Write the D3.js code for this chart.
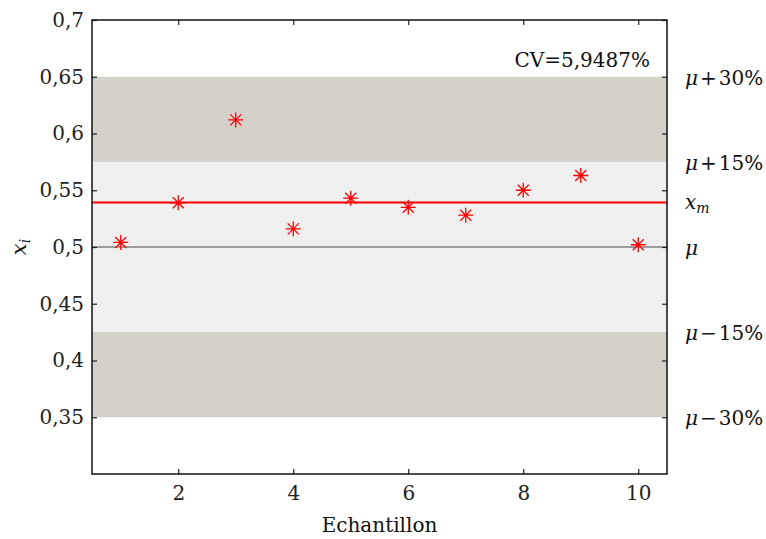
<!DOCTYPE html>
<html><head><meta charset="utf-8">
<script src="https://cdn.jsdelivr.net/npm/d3@7"></script>
<style>body{margin:0;background:#fff}svg{display:block}</style>
</head><body>
<script>
const samples = [1,2,3,4,5,6,7,8,9,10];
const values = [0.504,0.539,0.612,0.516,0.543,0.535,0.528,0.550,0.563,0.502];
const mu = 0.5;
const xm = 0.5392;
const cvText = "CV=5,9487%";
const yTicks = [0.35,0.4,0.45,0.5,0.55,0.6,0.65,0.7];
const xTicks = [2,4,6,8,10];
const bandLabels = [
  {v:0.65, base:"μ", op:"+", pct:"30%"},
  {v:0.575, base:"μ", op:"+", pct:"15%"},
  {v:0.425, base:"μ", op:"−", pct:"15%"},
  {v:0.35, base:"μ", op:"−", pct:"30%"}
];

const W=766,H=539;
const m={l:92,r:99,t:20,b:65};
const svg=d3.select("body").append("svg").attr("width",W).attr("height",H);
const x=d3.scaleLinear().domain([0.5,10.5]).range([m.l,W-m.r]);
const y=d3.scaleLinear().domain([0.3,0.7]).range([H-m.b,m.t]);
const font="'DejaVu Serif', serif";
const fs=20;
const g=svg.append("g");

// bands
g.append("rect").attr("x",x(0.5)).attr("width",x(10.5)-x(0.5))
  .attr("y",y(0.65)).attr("height",y(0.35)-y(0.65)).attr("fill","#d4d0ca");
g.append("rect").attr("x",x(0.5)).attr("width",x(10.5)-x(0.5))
  .attr("y",y(0.575)).attr("height",y(0.425)-y(0.575)).attr("fill","#efefef");

// mu line
g.append("line").attr("x1",x(0.5)).attr("x2",x(10.5)).attr("y1",y(mu)).attr("y2",y(mu))
  .attr("stroke","#808080").attr("stroke-width",1.5);
// xm line
g.append("line").attr("x1",x(0.5)).attr("x2",x(10.5)).attr("y1",y(xm)).attr("y2",y(xm))
  .attr("stroke","#ff0000").attr("stroke-width",2);

// axes
const tl=5;
svg.append("g").attr("transform",`translate(${m.l},0)`)
  .call(d3.axisLeft(y).tickValues(yTicks).tickSizeInner(-tl).tickSizeOuter(0).tickPadding(8)
  .tickFormat(d=>d3.format("~g")(d).replace(".",",")));
svg.append("g").attr("transform",`translate(${W-m.r},0)`)
  .call(d3.axisRight(y).tickValues(yTicks).tickSizeInner(-tl).tickSizeOuter(0).tickFormat(""));
svg.append("g").attr("transform",`translate(0,${H-m.b})`)
  .call(d3.axisBottom(x).tickValues(xTicks).tickSizeInner(-tl).tickSizeOuter(0).tickPadding(12));
svg.append("g").attr("transform",`translate(0,${m.t})`)
  .call(d3.axisTop(x).tickValues(xTicks).tickSizeInner(-tl).tickSizeOuter(0).tickFormat(""));
svg.selectAll(".domain").remove();
svg.selectAll(".tick line").attr("stroke","#222").attr("stroke-width",1.2);
svg.selectAll(".tick text").attr("font-family",font).attr("font-size",fs).attr("fill","#222");

// frame
svg.append("rect").attr("x",x(0.5)).attr("y",y(0.7)).attr("width",x(10.5)-x(0.5)).attr("height",y(0.3)-y(0.7))
  .attr("fill","none").attr("stroke","#111").attr("stroke-width",1.5);

// markers
const r=7.5, rd=5.5;
const star=`M${-r},0L${r},0M0,${-r}L0,${r}M${-rd},${-rd}L${rd},${rd}M${-rd},${rd}L${rd},${-rd}`;
svg.append("g").selectAll("path").data(samples).join("path")
  .attr("transform",(d,i)=>`translate(${x(d)},${y(values[i])})`)
  .attr("d",star).attr("stroke","#ff0000").attr("stroke-width",1.3).attr("fill","none");

// CV text
svg.append("text").attr("x",x(10.5)-17).attr("y",y(0.7)+47).attr("text-anchor","end")
  .attr("font-family",font).attr("font-size",fs).attr("fill","#111").text(cvText);

// right labels
const rl=svg.append("g").attr("font-family",font).attr("font-size",fs).attr("fill","#111");
bandLabels.forEach(b=>{
  const t=rl.append("text").attr("x",W-m.r+18).attr("y",y(b.v)+8);
  t.append("tspan").attr("font-style","italic").text(b.base);
  t.append("tspan").attr("dx",2).text(b.op);
  t.append("tspan").attr("dx",2).text(b.pct);
});
const tx=rl.append("text").attr("x",W-m.r+18).attr("y",y(xm)+6).attr("font-style","italic");
tx.append("tspan").text("x");
tx.append("tspan").attr("font-size",14).attr("dy",4).text("m");
rl.append("text").attr("x",W-m.r+18).attr("y",y(mu)+8).attr("font-style","italic").text("μ");

// axis labels
svg.append("text").attr("x",(x(0.5)+x(10.5))/2).attr("y",H-7).attr("text-anchor","middle")
  .attr("font-family",font).attr("font-size",fs).attr("fill","#111").text("Echantillon");
const yl=svg.append("text").attr("transform",`translate(26,${y(0.5)}) rotate(-90)`).attr("text-anchor","middle")
  .attr("font-family",font).attr("font-size",21).attr("font-style","italic").attr("fill","#111");
yl.append("tspan").text("x");
yl.append("tspan").attr("font-size",14).attr("dy",4).text("i");
</script>
</body></html>
